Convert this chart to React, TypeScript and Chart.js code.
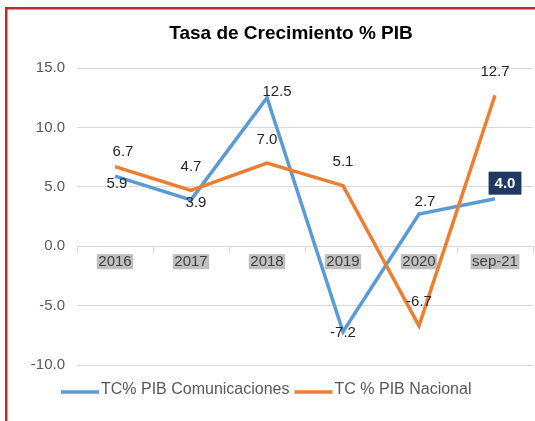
import React, { useEffect, useRef } from 'react';
import { Chart, registerables } from 'chart.js';

Chart.register(...registerables);

const FONT = '"Liberation Sans", Arial, Helvetica, sans-serif';

const TITLE = 'Tasa de Crecimiento % PIB';
const categories = ['2016', '2017', '2018', '2019', '2020', 'sep-21'];
const seriesComLabel = 'TC% PIB Comunicaciones';
const seriesNacLabel = 'TC % PIB Nacional';
const comunicaciones = [5.9, 3.9, 12.5, -7.2, 2.7, 4.0];
const nacional = [6.7, 4.7, 7.0, 5.1, -6.7, 12.7];
const Y_MIN = -10;
const Y_MAX = 15;
const Y_STEP = 5;

const BLUE = '#5b9bd5';
const ORANGE = '#ed7d31';

// label placement offsets (dx, dy) relative to each point
const COM_OFFSETS = [[2, 8], [5, 3], [10, -6], [0, 1], [6, -12], [10, -15.5]];
const NAC_OFFSETS = [[8, -15], [0, -24], [0, -23], [0, -24], [0, -24], [0, -23]];
const BOXED = { dataset: 0, index: 5 };

export default function App() {
  const ref = useRef<HTMLCanvasElement>(null);

  useEffect(() => {
    const canvas = ref.current;
    if (!canvas) return;

    const framePlugin = {
      id: 'frame',
      beforeDraw(chart: any) {
        const ctx = chart.ctx;
        ctx.save();
        ctx.fillStyle = '#ffffff';
        ctx.fillRect(0, 0, chart.width, chart.height);
        ctx.fillStyle = '#c1272d';
        ctx.fillRect(5, 7, 2.5, chart.height - 7);
        ctx.fillRect(5, 7, chart.width - 5, 2.5);
        ctx.restore();
      },
    };

    const titlePlugin = {
      id: 'customTitle',
      afterDraw(chart: any) {
        const ctx = chart.ctx;
        ctx.save();
        ctx.font = `bold 19px ${FONT}`;
        ctx.fillStyle = '#000000';
        ctx.textAlign = 'center';
        ctx.textBaseline = 'middle';
        ctx.fillText(TITLE, 291, 34);
        ctx.restore();
      },
    };

    const legendPlugin = {
      id: 'customLegend',
      afterDraw(chart: any) {
        const ctx = chart.ctx;
        ctx.save();
        ctx.font = `16px ${FONT}`;
        ctx.textBaseline = 'middle';
        ctx.textAlign = 'left';
        let x = 61;
        const y = 390;
        chart.data.datasets.forEach((ds: any) => {
          ctx.strokeStyle = ds.borderColor;
          ctx.lineWidth = 3.5;
          ctx.beginPath();
          ctx.moveTo(x, y + 2);
          ctx.lineTo(x + 38, y + 2);
          ctx.stroke();
          ctx.fillStyle = '#595959';
          ctx.fillText(ds.label, x + 40, y);
          x += 40 + ctx.measureText(ds.label).width + 5;
        });
        ctx.restore();
      },
    };

    const labelsPlugin = {
      id: 'valueLabels',
      afterDatasetsDraw(chart: any) {
        const ctx = chart.ctx;
        ctx.save();
        ctx.textAlign = 'center';
        ctx.textBaseline = 'middle';
        const offsets = [COM_OFFSETS, NAC_OFFSETS];
        chart.data.datasets.forEach((ds: any, di: number) => {
          const meta = chart.getDatasetMeta(di);
          meta.data.forEach((pt: any, i: number) => {
            const v = ds.data[i] as number;
            const [dx, dy] = offsets[di][i];
            const cx = pt.x + dx;
            const cy = pt.y + dy;
            const txt = v.toFixed(1);
            if (di === BOXED.dataset && i === BOXED.index) {
              ctx.font = `bold 15px ${FONT}`;
              const w = ctx.measureText(txt).width + 12;
              const h = 23;
              ctx.fillStyle = '#1f3864';
              ctx.fillRect(cx - w / 2, cy - h / 2, w, h);
              ctx.fillStyle = '#ffffff';
              ctx.fillText(txt, cx, cy + 0.5);
            } else {
              ctx.font = `15px ${FONT}`;
              ctx.fillStyle = '#262626';
              ctx.fillText(txt, cx, cy);
            }
          });
        });
        ctx.restore();
      },
    };

    const chart = new Chart(canvas, {
      type: 'line',
      data: {
        labels: categories,
        datasets: [
          {
            label: seriesComLabel,
            data: comunicaciones,
            borderColor: BLUE,
            backgroundColor: BLUE,
            borderWidth: 3.5,
            pointRadius: 0,
            pointHoverRadius: 0,
            tension: 0,
            fill: false,
            order: 1,
          },
          {
            label: seriesNacLabel,
            data: nacional,
            borderColor: ORANGE,
            backgroundColor: ORANGE,
            borderWidth: 3.5,
            pointRadius: 0,
            pointHoverRadius: 0,
            tension: 0,
            fill: false,
            order: 0,
          },
        ],
      },
      options: {
        responsive: false,
        animation: false,
        devicePixelRatio: 1,
        layout: { padding: { left: 0, right: 2, top: 68, bottom: 56 } },
        plugins: {
          legend: { display: false },
          title: { display: false },
          tooltip: { enabled: false },
        },
        scales: {
          x: {
            type: 'category',
            offset: true,
            position: { y: 0 } as any,
            grid: {
              offset: true,
              drawOnChartArea: false,
              drawTicks: true,
              tickLength: 6,
              color: '#d9d9d9',
            },
            border: { display: true, color: '#d9d9d9' },
            ticks: {
              font: { family: FONT, size: 15, lineHeight: 1 },
              color: '#404040',
              padding: 2,
              showLabelBackdrop: true,
              backdropColor: '#bfbfbf',
              backdropPadding: { left: 1.5, right: 1.5, top: 0, bottom: 0 },
              maxRotation: 0,
              autoSkip: false,
            } as any,
          },
          y: {
            min: Y_MIN,
            max: Y_MAX,
            afterFit: (s: any) => {
              s.width = 77;
            },
            grid: { color: '#d9d9d9', drawTicks: false },
            border: { display: false },
            ticks: {
              stepSize: Y_STEP,
              padding: 12,
              font: { family: FONT, size: 15 },
              color: '#595959',
              callback: (v: any) => Number(v).toFixed(1),
            },
          },
        },
      },
      plugins: [framePlugin, titlePlugin, legendPlugin, labelsPlugin],
    });

    return () => chart.destroy();
  }, []);

  return (
    <div style={{ position: 'fixed', left: 0, top: 0, width: 535, height: 421, background: '#fff', overflow: 'hidden' }}>
      <canvas ref={ref} width={535} height={421} style={{ display: 'block' }} />
    </div>
  );
}
